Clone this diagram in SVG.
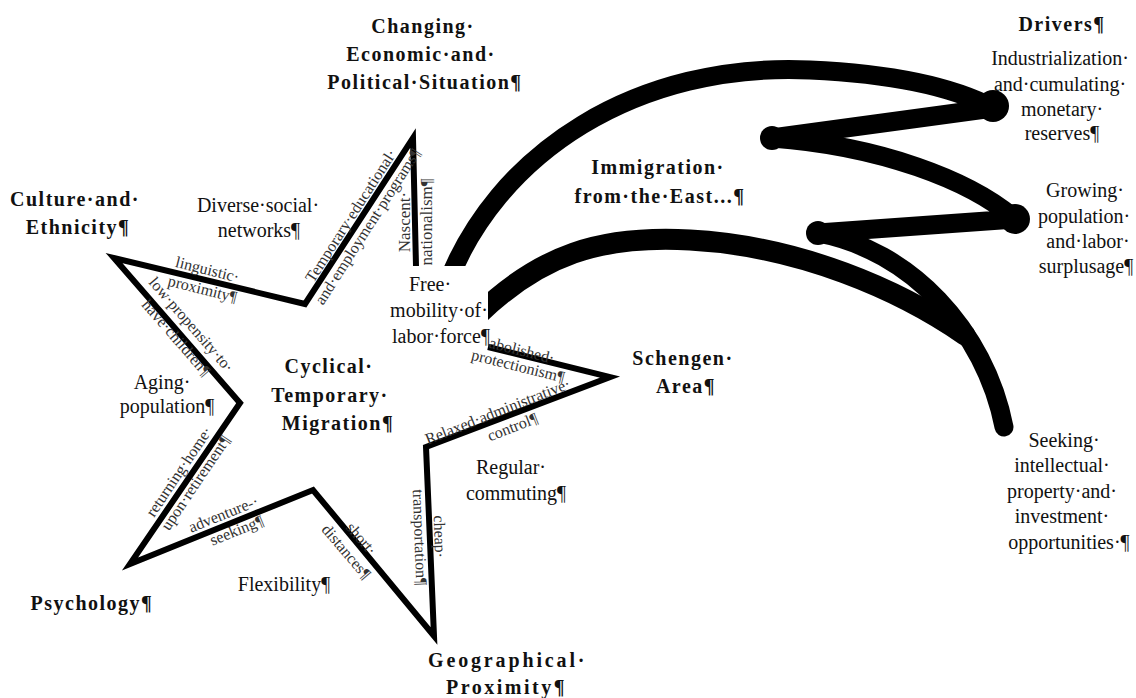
<svg xmlns="http://www.w3.org/2000/svg" width="1136" height="698" viewBox="0 0 1136 698">
<style>
.h{font-family:"Liberation Serif","Times New Roman",serif;font-weight:bold;font-size:20px;letter-spacing:1.5px;fill:#111;text-anchor:middle}
.b{font-family:"Liberation Serif","Times New Roman",serif;font-size:20px;fill:#111;text-anchor:middle}
.l{font-family:"Liberation Serif","Times New Roman",serif;font-size:16px;fill:#333;text-anchor:middle}
.star{fill:none;stroke:#000;stroke-width:6;stroke-linejoin:miter;stroke-miterlimit:12}
.tail{fill:none;stroke:#000;stroke-width:19;stroke-linecap:round;stroke-linejoin:round}
</style>
<rect width="1136" height="698" fill="#fff"/>
<g id="connectors">
<g id="tail">
<path class="tail" d="M 444 292 C 495 150 640 62 810 70 C 900 74 955 88 993 108 L 772 138 C 880 146 970 180 1015 219 L 818 233 C 910 250 985 330 1004 427"/>
<path class="tail" style="stroke-width:21" d="M 478 315 C 540 255 600 235 690 240 C 800 246 900 290 965 335"/>
<circle cx="993" cy="106" r="16"/>
<circle cx="1015" cy="219" r="15"/>
<circle cx="772" cy="138" r="12"/>
<circle cx="818" cy="233" r="12"/>
</g>
<rect x="396" y="266" width="92" height="80" fill="#fff"/>
<path id="star" class="star" d="M 488 347 L 610 377 L 426 447 L 434 636 L 313 490 L 130 564 L 240 403 L 114 258 L 305 304 L 413 138 L 416 266"/>
</g>
<g id="edge-labels">
<g id="lbl-linguistic" transform="translate(205,279) rotate(14)"><text class="l" y="-4.5">linguistic·</text><text class="l" y="15.5">proximity¶</text></g>
<g id="lbl-propensity" transform="translate(184,331) rotate(49)"><text class="l" y="-4.5">low·propensity·to·</text><text class="l" y="15.5">have·children¶</text></g>
<g id="lbl-returning" transform="translate(187,477) rotate(-56)"><text class="l" y="-4.5">returning·home·</text><text class="l" y="15.5">upon·retirement¶</text></g>
<g id="lbl-adventure" transform="translate(230,522) rotate(-22)"><text class="l" x="-3" y="-4.5">adventure-·</text><text class="l" x="3" y="15.5">seeking¶</text></g>
<g id="lbl-short" transform="translate(354,545) rotate(49.5)"><text class="l" y="-4.5">short·</text><text class="l" y="15.5">distances¶</text></g>
<g id="lbl-cheap" transform="translate(430,537) rotate(88)"><text class="l" y="-4.5">cheap·</text><text class="l" y="15.5">transportation¶</text></g>
<g id="lbl-relaxed" transform="translate(505,419) rotate(-21.6)"><text class="l" x="-4" y="-4.5">Relaxed·administrative·</text><text class="l" x="4" y="15.5">control¶</text></g>
<g id="lbl-abolished" transform="translate(520,358) rotate(14)"><text class="l" y="-2.5">abolished·</text><text class="l" y="13.5">protectionism¶</text></g>
<g id="lbl-temporary" transform="translate(359,221) rotate(-57.3)"><text class="l" y="-4.5">Temporary·educational·</text><text class="l" y="15.5">and·employment·programs¶</text></g>
<g id="lbl-nascent" transform="translate(415,222) rotate(-90)"><text class="l" y="-5.5" style="font-size:17px">Nascent·</text><text class="l" y="16.5" style="font-size:17px">nationalism¶</text></g>
</g>
<g id="node-changing"><text class="h" x="423" y="33">Changing·</text><text class="h" x="421" y="61">Economic·and·</text><text class="h" x="425" y="89">Political·Situation¶</text></g>
<g id="node-culture"><text class="h" x="75" y="206">Culture·and·</text><text class="h" x="78" y="234">Ethnicity¶</text></g>
<g id="node-psychology"><text class="h" x="92" y="610">Psychology¶</text></g>
<g id="node-geo"><text class="h" x="507" y="667" textLength="158">Geographical·</text><text class="h" x="506" y="694" textLength="120">Proximity¶</text></g>
<g id="node-schengen"><text class="h" x="683" y="365">Schengen·</text><text class="h" x="686" y="393">Area¶</text></g>
<g id="node-immigration"><text class="h" x="658" y="174">Immigration·</text><text class="h" x="660" y="203">from·the·East...¶</text></g>
<g id="node-cyclical"><text class="h" x="329" y="373">Cyclical·</text><text class="h" x="330" y="402">Temporary·</text><text class="h" x="338" y="430">Migration¶</text></g>
<g id="node-drivers"><text class="h" x="1062" y="31">Drivers¶</text></g>
<g id="node-diverse"><text class="b" x="258" y="212">Diverse·social·</text><text class="b" x="259" y="237">networks¶</text></g>
<g id="node-aging"><text class="b" x="162" y="389">Aging·</text><text class="b" x="167" y="413">population¶</text></g>
<g id="node-flex"><text class="b" x="284" y="591">Flexibility¶</text></g>
<g id="node-regular"><text class="b" x="511" y="474">Regular·</text><text class="b" x="516" y="500">commuting¶</text></g>
<g id="node-free"><text class="b" x="430" y="291">Free·</text><text class="b" x="439" y="317">mobility·of·</text><text class="b" x="441" y="343">labor·force¶</text></g>
<g id="node-industrial"><text class="b" x="1060" y="65">Industrialization·</text><text class="b" x="1060" y="91">and·cumulating·</text><text class="b" x="1062" y="116">monetary·</text><text class="b" x="1062" y="140">reserves¶</text></g>
<g id="node-growing"><text class="b" x="1085" y="197">Growing·</text><text class="b" x="1084" y="223">population·</text><text class="b" x="1088" y="248">and·labor·</text><text class="b" x="1086" y="273">surplusage¶</text></g>
<g id="node-seeking"><text class="b" x="1064" y="447">Seeking·</text><text class="b" x="1062" y="472">intellectual·</text><text class="b" x="1062" y="498">property·and·</text><text class="b" x="1062" y="523">investment·</text><text class="b" x="1069" y="549">opportunities·¶</text></g>
</svg>
